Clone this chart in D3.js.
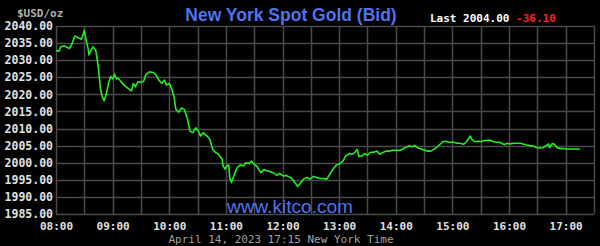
<!DOCTYPE html>
<html>
<head>
<meta charset="utf-8">
<script src="https://cdn.jsdelivr.net/npm/d3@7"></script>
<style>
  html, body { margin: 0; padding: 0; background: #000; }
  svg { display: block; }
</style>
</head>
<body>
<svg id="chart" width="600" height="246"></svg>
<script>
// ---- data ----
const times = [
  "08:00","08:03","08:05","08:09","08:14","08:17","08:20","08:24","08:27","08:29",
  "08:30","08:32","08:34","08:35","08:37","08:39","08:42","08:43","08:45","08:47",
  "08:49","08:51","08:53","08:56","08:58","09:00","09:02","09:04","09:06","09:09",
  "09:12","09:16","09:20","09:22","09:24","09:27","09:30","09:33","09:35","09:39",
  "09:43","09:46","09:49","09:52","09:55","09:57","10:00","10:03","10:05","10:07",
  "10:10","10:13","10:16","10:19","10:22","10:25","10:28","10:31","10:33","10:36",
  "10:40","10:43","10:46","10:49","10:52","10:56","10:57","10:59","11:01","11:03",
  "11:04","11:06","11:09","11:12","11:15","11:19","11:21","11:25","11:27","11:30",
  "11:33","11:37","11:40","11:45","11:50","11:54","11:57","12:01","12:04","12:10",
  "12:13","12:16","12:19","12:22","12:26","12:29","12:33","12:36","12:40","12:43",
  "12:47","12:50","12:54","12:57","13:01","13:04","13:07","13:11","13:14","13:17",
  "13:19","13:21","13:24","13:27","13:30","13:33","13:37","13:40","13:43","13:47",
  "13:50","13:54","13:57","14:01","14:05","14:08","14:12","14:14","14:18","14:20",
  "14:23","14:26","14:30","14:33","14:37","14:40","14:43","14:45","14:48","14:50",
  "14:54","14:57","15:01","15:05","15:08","15:12","15:14","15:17","15:19","15:20",
  "15:23","15:26","15:30","15:34","15:36","15:40","15:43","15:47","15:50","15:52",
  "15:55","15:58","16:01","16:05","16:08","16:12","16:15","16:19","16:22","16:26",
  "16:29","16:33","16:36","16:40","16:42","16:43","16:45","16:47","16:49","16:51",
  "16:54","16:58","17:01","17:08","17:15"
];
const prices = [
  2032.9,2032.6,2033.9,2034.2,2033.4,2034.8,2037.1,2036.5,2036.1,2037.8,
  2038.7,2035.8,2033.4,2031.5,2032.9,2033.9,2032.9,2031.5,2027.6,2021.8,
  2019.3,2018.1,2019.8,2023.7,2025.2,2024.5,2025.9,2024.5,2024.7,2023.7,
  2022.7,2021.8,2021.0,2023.2,2022.2,2023.7,2023.5,2023.9,2025.7,2026.6,
  2026.4,2025.7,2024.2,2023.2,2024.2,2022.7,2023.2,2021.3,2019.3,2015.6,
  2014.8,2016.0,2015.6,2013.1,2009.2,2008.8,2010.2,2009.2,2007.8,2008.8,
  2007.8,2006.8,2003.9,2003.0,2002.5,2001.0,1999.1,1998.1,1999.1,1999.3,
  1995.7,1994.2,1996.6,1998.6,1999.3,1999.1,2000.0,1999.8,2000.5,1999.5,
  1998.9,1997.1,1997.9,1997.6,1997.1,1996.3,1996.9,1996.1,1996.3,1995.4,
  1994.2,1993.1,1994.0,1995.2,1995.7,1995.2,1996.0,1995.7,1995.4,1995.4,
  1995.2,1996.6,1998.3,1999.3,1999.8,2000.5,2002.0,2002.7,2002.5,2003.1,
  2003.9,2001.8,2002.0,2002.7,2002.2,2003.0,2003.1,2003.4,2002.5,2003.1,
  2003.4,2003.4,2003.7,2003.6,2003.7,2004.1,2004.7,2004.9,2004.7,2005.1,
  2004.4,2004.1,2003.7,2003.4,2003.4,2003.9,2004.4,2004.9,2005.7,2006.2,
  2006.2,2006.0,2006.0,2005.7,2005.7,2005.4,2005.9,2007.0,2007.8,2007.0,
  2006.2,2006.3,2006.2,2006.5,2006.5,2006.6,2006.2,2006.0,2006.0,2005.7,
  2005.3,2005.7,2005.5,2005.7,2005.7,2005.7,2005.5,2005.2,2005.0,2004.9,
  2004.4,2004.3,2004.4,2005.1,2005.5,2004.4,2005.4,2005.6,2005.1,2004.4,
  2004.2,2004.1,2004.0,2004.0,2004.0
];
const yTicks = [1985, 1990, 1995, 2000, 2005, 2010, 2015, 2020, 2025, 2030, 2035, 2040];
const xTickLabels = ["08:00","09:00","10:00","11:00","12:00","13:00","14:00","15:00","16:00","17:00"];
const xDomain = ["08:00", "17:30"];
const yDomain = [1985, 2040];
const titleText = "New York Spot Gold (Bid)";
const unitText = "$USD/oz";
const lastLabel = "Last 2004.00";
const changeLabel = "-36.10";
const siteText = "www.kitco.com";
const dateText = "April 14, 2023 17:15 New York Time";

// ---- drawing ----
const parse = d3.timeParse("%Y-%m-%d %H:%M");
const toDate = s => parse("2023-04-14 " + s);

const svg = d3.select("#chart");
const W = 600, H = 246;
const m = { left: 56, right: 6, top: 26, bottom: 32 };

svg.append("rect").attr("width", W).attr("height", H).attr("fill", "#000");

const x = d3.scaleTime().domain(xDomain.map(toDate)).range([m.left, W - m.right]);
const y = d3.scaleLinear().domain(yDomain).range([H - m.bottom, m.top]);

const mono = "'DejaVu Sans Mono', 'Liberation Mono', monospace";
const sans = "'Liberation Sans', Arial, sans-serif";

// grid
const gridTimes = d3.timeMinute.every(30).range(toDate(xDomain[0]), d3.timeMinute.offset(toDate(xDomain[1]), 1));
svg.append("g")
  .selectAll("line")
  .data(gridTimes)
  .join("line")
  .attr("x1", d => Math.round(x(d)) + 0.5).attr("x2", d => Math.round(x(d)) + 0.5)
  .attr("y1", y(yDomain[1])).attr("y2", y(yDomain[0]))
  .attr("stroke", "#4a4a4a").attr("stroke-width", 1.5);

svg.append("g")
  .selectAll("line")
  .data(yTicks)
  .join("line")
  .attr("x1", x(toDate(xDomain[0]))).attr("x2", x(toDate(xDomain[1])))
  .attr("y1", d => Math.round(y(d)) + 0.5).attr("y2", d => Math.round(y(d)) + 0.5)
  .attr("stroke", "#4a4a4a").attr("stroke-width", 1.5);

// y axis labels
const yAxis = d3.axisLeft(y).tickValues(yTicks).tickFormat(d3.format(".2f")).tickSize(0).tickPadding(3);
const gy = svg.append("g").attr("transform", `translate(${m.left},0)`).call(yAxis);
gy.select(".domain").remove();
gy.selectAll("text")
  .attr("fill", "#e0e0e0").attr("font-family", mono).attr("font-size", 11.5).attr("font-weight", "bold");

// x axis labels
const xAxis = d3.axisBottom(x).tickValues(xTickLabels.map(toDate)).tickFormat(d3.timeFormat("%H:%M")).tickSize(0).tickPadding(0);
const gx = svg.append("g").attr("transform", `translate(0,${H - m.bottom})`).call(xAxis);
gx.select(".domain").remove();
gx.selectAll("text")
  .attr("y", 15.5).attr("dy", null)
  .attr("fill", "#e0e0e0").attr("font-family", mono).attr("font-size", 11).attr("font-weight", "bold");

// line
const data = times.map((t, i) => ({ t: toDate(t), v: prices[i] }));
svg.append("path")
  .datum(data)
  .attr("fill", "none")
  .attr("stroke", "#22ee22")
  .attr("stroke-width", 1.6)
  .attr("stroke-linejoin", "round")
  .attr("d", d3.line().x(d => x(d.t)).y(d => y(d.v)));

// texts
svg.append("text").attr("x", 17).attr("y", 17).text(unitText)
  .attr("fill", "#b0b0b0").attr("font-family", mono).attr("font-size", 11).attr("font-weight", "bold");

svg.append("text").attr("x", 291).attr("y", 21).attr("text-anchor", "middle").text(titleText)
  .attr("fill", "#4f74ee").attr("font-family", sans).attr("font-size", 17.5).attr("font-weight", "bold");

const last = svg.append("text").attr("x", 430).attr("y", 22)
  .attr("font-family", mono).attr("font-size", 11).attr("font-weight", "bold");
last.append("tspan").attr("fill", "#ffffff").text(lastLabel + " ");
last.append("tspan").attr("fill", "#ff2020").text(changeLabel);

svg.append("text").attr("x", 227).attr("y", 212.5).text(siteText)
  .attr("textLength", 126).attr("lengthAdjust", "spacingAndGlyphs")
  .attr("fill", "#4f74ee").attr("font-family", sans).attr("font-size", 17.5);

svg.append("text").attr("x", 281).attr("y", 243).attr("text-anchor", "middle").text(dateText)
  .attr("fill", "#a0a0a0").attr("font-family", mono).attr("font-size", 11);
</script>
</body>
</html>
